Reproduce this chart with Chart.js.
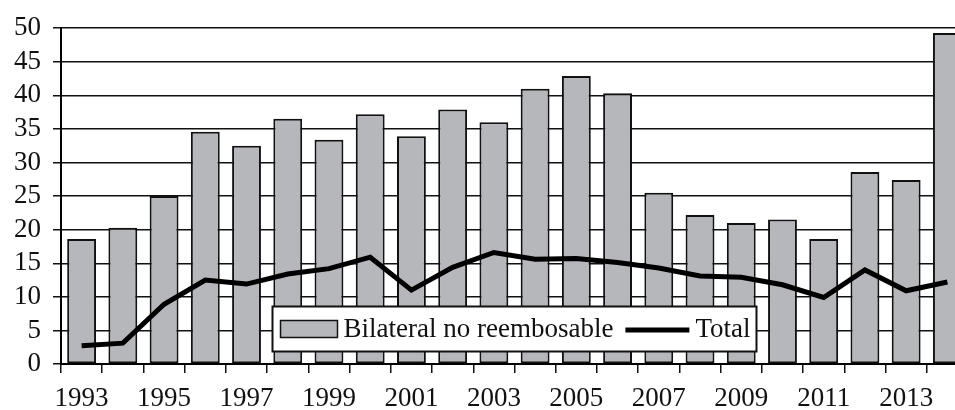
<!DOCTYPE html>
<html>
<head>
<meta charset="utf-8">
<script src="https://cdn.jsdelivr.net/npm/chart.js@4"></script>
<style>
html,body{margin:0;padding:0;background:#fff;overflow:hidden;width:955px;height:410px;}
canvas{display:block;}
</style>
</head>
<body>
<canvas id="c" width="970" height="410"></canvas>
<script>
const years = ['1993','1994','1995','1996','1997','1998','1999','2000','2001','2002','2003','2004','2005','2006','2007','2008','2009','2010','2011','2012','2013','2014'];
const shownYearLabels = ['1993','1995','1997','1999','2001','2003','2005','2007','2009','2011','2013'];
const bilateralNoReembolsable = [18.6,20.3,25.0,34.6,32.5,36.5,33.4,37.2,33.9,37.9,36.0,41.0,42.9,40.3,25.5,22.2,21.0,21.5,18.6,28.6,27.4,49.3];
const total = [2.7,3.1,8.9,12.5,11.9,13.4,14.2,15.9,11.0,14.4,16.6,15.6,15.7,15.1,14.3,13.1,12.9,11.8,9.9,14.0,10.9,12.2];
const seriesNames = ['Bilateral no reembosable','Total'];
const yTicks = [0,5,10,15,20,25,30,35,40,45,50];

const FONT = '"Liberation Serif", "Times New Roman", serif';
const BAR_FILL = 'rgb(182,183,187)';

const legendPlugin = {
  id: 'boxLegend',
  afterDatasetsDraw(chart) {
    const ctx = chart.ctx;
    const a = chart.chartArea;
    const ds = chart.data.datasets;
    const barDs = ds.find(d => d.type === 'bar');
    const lineDs = ds.find(d => d.type === 'line');
    ctx.save();
    ctx.font = '27px ' + FONT;
    const t1 = barDs.label;
    const t2 = lineDs.label;
    const w1 = ctx.measureText(t1).width;
    const w2 = ctx.measureText(t2).width;
    const padL = 8, swW = 57, swH = 17, gap = 6, gap2 = 12, lineW = 64, padR = 6;
    const boxW = padL + swW + gap + w1 + gap2 + lineW + gap + w2 + padR;
    const boxH = 45;
    const cx = (a.left + a.right) / 2 - 1;
    const x0 = Math.round(cx - boxW / 2) + 0.5;
    const y0 = a.bottom - 13 - boxH + 0.5;
    ctx.fillStyle = '#fff';
    ctx.fillRect(x0, y0, boxW, boxH);
    ctx.lineWidth = 2;
    ctx.strokeStyle = '#111';
    ctx.strokeRect(x0, y0, boxW, boxH);
    const my = y0 + boxH / 2;
    let x = x0 + padL;
    ctx.fillStyle = barDs.backgroundColor;
    ctx.fillRect(x, my - swH / 2, swW, swH);
    ctx.lineWidth = 1.5;
    ctx.strokeStyle = '#111';
    ctx.strokeRect(x, my - swH / 2, swW, swH);
    x += swW + gap;
    ctx.fillStyle = '#111';
    ctx.textBaseline = 'middle';
    ctx.textAlign = 'left';
    ctx.fillText(t1, x, my + 1);
    x += w1 + gap2;
    ctx.beginPath();
    ctx.lineWidth = 5;
    ctx.strokeStyle = lineDs.borderColor;
    ctx.moveTo(x, my + 1);
    ctx.lineTo(x + lineW, my + 1);
    ctx.stroke();
    x += lineW + gap;
    ctx.fillText(t2, x, my + 1);
    ctx.restore();
  }
};

new Chart(document.getElementById('c'), {
  data: {
    labels: years,
    datasets: [
      {
        type: 'line',
        label: seriesNames[1],
        data: total,
        borderColor: '#000',
        borderWidth: 5,
        pointRadius: 0,
        tension: 0,
        fill: false,
        order: 0
      },
      {
        type: 'bar',
        label: seriesNames[0],
        data: bilateralNoReembolsable,
        backgroundColor: BAR_FILL,
        borderColor: '#111',
        borderWidth: 2,
        borderSkipped: false,
        categoryPercentage: 1.0,
        barPercentage: 0.7,
        order: 1
      }
    ]
  },
  options: {
    responsive: false,
    animation: false,
    layout: { padding: { top: 28, right: 2, bottom: 0, left: 0 } },
    plugins: { legend: { display: false }, tooltip: { enabled: false } },
    scales: {
      x: {
        offset: true,
        afterFit(s) { s.height = 46; },
        grid: { offset: true, drawOnChartArea: false, drawTicks: true, tickLength: 9, color: '#111', lineWidth: 1.5 },
        border: { display: true, color: '#000', width: 2 },
        ticks: {
          autoSkip: false, maxRotation: 0, padding: 10, color: '#111',
          font: { family: FONT, size: 27 },
          callback(v, i) { const l = years[i]; return shownYearLabels.includes(l) ? l : ''; }
        }
      },
      y: {
        min: 0, max: 50,
        afterFit(s) { s.width = 61; },
        afterBuildTicks(s) { s.ticks = yTicks.map(v => ({ value: v })); },
        grid: { color: '#111', lineWidth: 1.5, tickLength: 8 },
        border: { display: true, color: '#000', width: 2 },
        ticks: { autoSkip: false, stepSize: 5, padding: 12, color: '#111', font: { family: FONT, size: 27 } }
      }
    }
  },
  plugins: [legendPlugin]
});
</script>
</body>
</html>
